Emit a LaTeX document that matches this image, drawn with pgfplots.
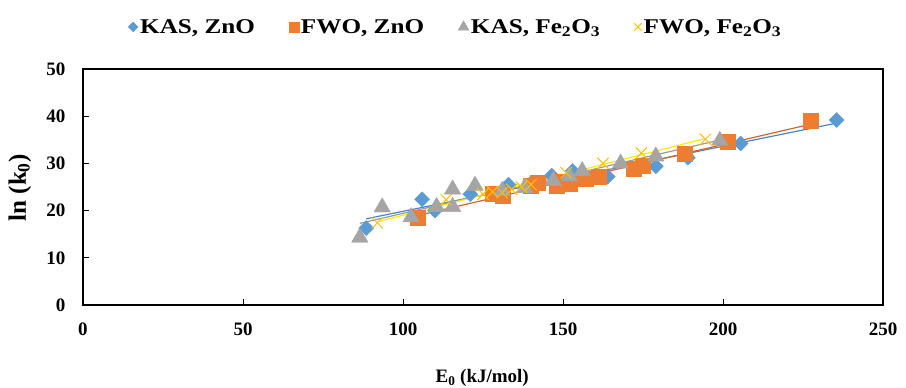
\documentclass[border=0pt]{standalone}
\usepackage{pgfplots}
\usepackage{pgfplotstable}
\pgfplotsset{compat=1.18}
\usepackage{fontspec}
\setmainfont{Liberation Serif}
\newfontfamily\legfont{Liberation Serif}[FakeStretch=1.2]
\definecolor{cblue}{HTML}{5B9BD5}
\definecolor{corange}{HTML}{ED7D31}
\definecolor{cgray}{HTML}{A5A5A5}
\definecolor{cyellow}{HTML}{FFC000}
\definecolor{tblue}{HTML}{4A86C5}
\definecolor{torange}{HTML}{D0672A}
\definecolor{tgray}{HTML}{9A9A9A}
\definecolor{tyellow}{HTML}{FFEA00}

\pgfplotstableread{
x y
88.5 16.3
106 22.4
110 20.0
121 23.5
133 25.5
140 25.8
146.5 27.4
153 28.4
164 27.2
179 29.4
189 31.2
205.5 34.2
235.5 39.2
}\kaszno
\pgfplotstableread{
x y
104.5 18.6
128 23.6
131 23.2
140 25.3
142 26.0
148 25.3
150 26.2
152 25.6
157 26.8
161 27.2
172 28.8
175 29.6
188 32.0
201.5 34.5
227.5 39.0
}\fwozno
\pgfplotstableread{
x y
86.5 14.3
93.5 20.7
102.5 18.6
110.5 20.8
115.5 20.8
115.5 24.5
122.5 25.3
131 24.2
138 24.8
147 26.3
152 27.3
156 28.4
168 30.0
179 31.5
199 34.8
}\kasfe
\pgfplotstableread{
x y
92 17.4
113.5 22.3
125 23.5
128 24.0
131 23.8
134 24.5
137 25.0
140 25.5
151 28.0
162.5 30.0
174.5 32.2
194.5 35.1
}\fwofe

\begin{document}
\begin{tikzpicture}
\path[use as bounding box] (-83pt,-83pt) rectangle (823pt,305pt);
\begin{axis}[
  at={(0pt,0pt)}, anchor=south west,
  scale only axis,
  width=800pt, height=236pt,
  xmin=0, xmax=250, ymin=0, ymax=50,
  xtick={0,50,...,250}, ytick={0,10,...,50},
  xtick pos=bottom, ytick pos=left,
  tick align=inside,
  major tick length=6pt,
  every tick/.style={black, line width=0.8pt},
  axis line style={line width=2.5pt},
  /pgf/number format/assume math mode=true,
  ticklabel style={font=\bfseries\fontsize{19}{19}\selectfont},
  xticklabel style={yshift=-14pt},
  yticklabel style={xshift=-14pt},
  xlabel={E\textsubscript{0} (kJ/mol)},
  ylabel={ln (k\textsubscript{0})},
  xlabel style={font=\bfseries\fontsize{19}{19}\selectfont, at={(axis description cs:0.499,-0.309)}, anchor=center},
  ylabel style={font=\bfseries\fontsize{25}{25}\selectfont, at={(axis description cs:-0.079,0.496)}, anchor=center},
  legend columns=4,
  legend cell align=left,
  legend style={draw=none, fill=none, at={(axis description cs:0.466,1.178)}, anchor=center,
    font=\legfont\bfseries\fontsize{21}{21}\selectfont,
    /tikz/every even column/.append style={column sep=32pt},
    /tikz/every odd column/.append style={column sep=0pt}},
  legend image code/.code={\draw[#1, every mark/.append style={scale=0.66}] plot coordinates {(0pt,0pt)};},
]
\addplot[only marks, mark=square*, mark size=5.3pt, mark options={rotate=45, draw=cblue, fill=cblue}] table {\kaszno};
\addlegendentry{KAS, ZnO}
\addplot[only marks, mark=square*, mark size=7.5pt, mark options={draw=corange, fill=corange}] table {\fwozno};
\addlegendentry{FWO, ZnO}
\addplot[only marks, mark=triangle*, mark size=9.5pt, mark options={draw=cgray, fill=cgray}] table {\kasfe};
\addlegendentry{KAS, Fe\textsubscript{2}O\textsubscript{3}}
\addplot[only marks, mark=x, mark size=8pt, mark options={draw=cyellow, line width=1pt}] table {\fwofe};
\addlegendentry{FWO, Fe\textsubscript{2}O\textsubscript{3}}

\addplot[forget plot, no marks, tblue, line width=1.2pt] table[x=x, y={create col/linear regression={y=y}}] {\kaszno};
\addplot[forget plot, no marks, torange, line width=1.2pt] table[x=x, y={create col/linear regression={y=y}}] {\fwozno};
\addplot[forget plot, no marks, tgray, line width=1.2pt] table[x=x, y={create col/linear regression={y=y}}] {\kasfe};
\addplot[forget plot, no marks, tyellow, line width=1.2pt] table[x=x, y={create col/linear regression={y=y}}] {\fwofe};
\end{axis}
\end{tikzpicture}
\end{document}
